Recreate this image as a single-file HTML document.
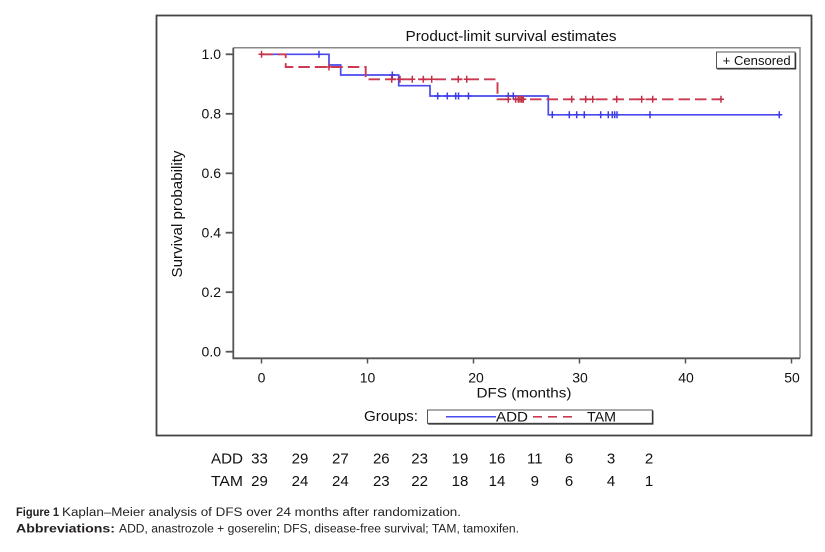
<!DOCTYPE html>
<html>
<head>
<meta charset="utf-8">
<style>
  html,body{margin:0;padding:0;background:#fff;}
  body{width:825px;height:552px;overflow:hidden;}
  svg{display:block;}
  text{font-family:"Liberation Sans", Arial, sans-serif;}
</style>
</head>
<body>
<svg width="825" height="552" viewBox="0 0 825 552" xmlns="http://www.w3.org/2000/svg">
  <rect x="0" y="0" width="825" height="552" fill="#fff"/>

  <!-- outer frame -->
  <rect x="156.5" y="15.5" width="655" height="420" fill="none" stroke="#444" stroke-width="1.8"/>

  <!-- title -->
  <text x="511" y="41" font-size="15" text-anchor="middle" fill="#111" textLength="211" lengthAdjust="spacingAndGlyphs">Product-limit survival estimates</text>

  <!-- plot frame (top/right lighter) -->
  <path d="M233.3,47.7 H800 V358.3" fill="none" stroke="#8a8a8a" stroke-width="1.5"/>
  <path d="M233.3,47.7 V358.3 H800" fill="none" stroke="#555" stroke-width="1.8"/>

  <!-- y ticks -->
  <g stroke="#555" stroke-width="1.8">
    <line x1="225.7" y1="54.3" x2="233.3" y2="54.3"/>
    <line x1="225.7" y1="113.8" x2="233.3" y2="113.8"/>
    <line x1="225.7" y1="173.3" x2="233.3" y2="173.3"/>
    <line x1="225.7" y1="232.7" x2="233.3" y2="232.7"/>
    <line x1="225.7" y1="292.2" x2="233.3" y2="292.2"/>
    <line x1="225.7" y1="351.7" x2="233.3" y2="351.7"/>
  </g>
  <g font-size="14" text-anchor="end" fill="#111">
    <text x="221" y="59">1.0</text>
    <text x="221" y="118.5">0.8</text>
    <text x="221" y="178">0.6</text>
    <text x="221" y="237.4">0.4</text>
    <text x="221" y="296.9">0.2</text>
    <text x="221" y="356.3">0.0</text>
  </g>

  <!-- x ticks -->
  <g stroke="#555" stroke-width="1.5">
    <line x1="261.5" y1="358.3" x2="261.5" y2="363.5"/>
    <line x1="367.5" y1="358.3" x2="367.5" y2="363.5"/>
    <line x1="473.5" y1="358.3" x2="473.5" y2="363.5"/>
    <line x1="579.5" y1="358.3" x2="579.5" y2="363.5"/>
    <line x1="685.5" y1="358.3" x2="685.5" y2="363.5"/>
    <line x1="791.5" y1="358.3" x2="791.5" y2="363.5"/>
  </g>
  <g font-size="14" text-anchor="middle" fill="#111">
    <text x="261.5" y="382.7">0</text>
    <text x="367.5" y="382.7">10</text>
    <text x="476" y="382.7">20</text>
    <text x="580" y="382.7">30</text>
    <text x="686" y="382.7">40</text>
    <text x="792" y="382.7">50</text>
  </g>

  <!-- axis labels -->
  <text x="524" y="397.5" font-size="14" text-anchor="middle" fill="#111" textLength="95" lengthAdjust="spacingAndGlyphs">DFS (months)</text>
  <text transform="translate(182,214) rotate(-90)" x="0" y="0" font-size="15" text-anchor="middle" fill="#111" textLength="127" lengthAdjust="spacingAndGlyphs">Survival probability</text>

  <!-- censored legend box -->
  <rect x="716.5" y="52" width="78.5" height="16.3" fill="#fff" stroke="#555" stroke-width="1"/>
  <path d="M795.6,52.6 V68.9 H717.2" fill="none" stroke="#333" stroke-width="1.3"/>
  <text x="722.7" y="65" font-size="13" fill="#111" textLength="68" lengthAdjust="spacingAndGlyphs">+ Censored</text>

  <!-- ADD curve (blue) -->
  <path d="M261.5,54.3 H329 V65 H340.7 V75 H398.7 V85.7 H430 V96 H548.3 V114.8 H781" fill="none" stroke="#4a4aee" stroke-width="1.7"/>
  <path fill="none" stroke="#3c3ce6" stroke-width="1.5" d="
    M316,54.3h6M319,50.8v7
    M389.3,75h6M392.3,71.5v7
    M434.7,96h6M437.7,92.5v7
    M444.3,96h6M447.3,92.5v7
    M452.7,96h6M455.7,92.5v7
    M455.5,96h6M458.5,92.5v7
    M465.5,96h6M468.5,92.5v7
    M505.3,96h6M508.3,92.5v7
    M510.3,96h6M513.3,92.5v7
    M549.3,114.8h6M552.3,111.3v7
    M566.3,114.8h6M569.3,111.3v7
    M573.7,114.8h6M576.7,111.3v7
    M581.3,114.8h6M584.3,111.3v7
    M597.7,114.8h6M600.7,111.3v7
    M605.3,114.8h6M608.3,111.3v7
    M609.3,114.8h6M612.3,111.3v7
    M611.7,114.8h6M614.7,111.3v7
    M614,114.8h6M617,111.3v7
    M647,114.8h6M650,111.3v7
    M776.3,114.8h6M779.3,111.3v7"/>

  <!-- TAM curve (red dashed) -->
  <path d="M261.5,54.3 H285.7 V67 H365.7 V79.3 H497.5 V99.3 H721" fill="none" stroke="#cc3a52" stroke-width="1.9" stroke-dasharray="11.5 5"/>
  <path fill="none" stroke="#c43048" stroke-width="1.5" d="
    M258.5,54.3h6M261.5,50.8v7
    M326,67h6M329,63.5v7
    M388.7,79.3h6M391.7,75.8v7
    M397,79.3h6M400,75.8v7
    M409.3,79.3h6M412.3,75.8v7
    M420.3,79.3h6M423.3,75.8v7
    M428.7,79.3h6M431.7,75.8v7
    M455.3,79.3h6M458.3,75.8v7
    M463.7,79.3h6M466.7,75.8v7
    M505.3,99.3h6M508.3,95.8v7
    M512.7,99.3h6M515.7,95.8v7
    M515.3,99.3h6M518.3,95.8v7
    M517,99.3h6M520,95.8v7
    M518.7,99.3h6M521.7,95.8v7
    M520.3,99.3h6M523.3,95.8v7
    M568.7,99.3h6M571.7,95.8v7
    M582.7,99.3h6M585.7,95.8v7
    M589.7,99.3h6M592.7,95.8v7
    M613.7,99.3h6M616.7,95.8v7
    M638.7,99.3h6M641.7,95.8v7
    M649.7,99.3h6M652.7,95.8v7
    M718,99.3h6M721,95.8v7"/>

  <!-- groups legend -->
  <text x="364" y="421" font-size="14.5" fill="#111" textLength="54" lengthAdjust="spacingAndGlyphs">Groups:</text>
  <rect x="427.5" y="410" width="224.8" height="13.3" fill="#fff" stroke="#555" stroke-width="1"/>
  <path d="M652.8,410.6 V424 H428.2" fill="none" stroke="#333" stroke-width="1.3"/>
  <line x1="446" y1="416.8" x2="496" y2="416.8" stroke="#4a4aee" stroke-width="1.5"/>
  <text x="496" y="421.5" font-size="14" fill="#111" textLength="32" lengthAdjust="spacingAndGlyphs">ADD</text>
  <line x1="533" y1="416.8" x2="578" y2="416.8" stroke="#cc3a52" stroke-width="1.6" stroke-dasharray="9 6"/>
  <text x="587" y="421.5" font-size="14" fill="#111" textLength="29" lengthAdjust="spacingAndGlyphs">TAM</text>

  <!-- risk table -->
  <g font-size="15" fill="#111">
    <text x="211" y="463.5" textLength="32" lengthAdjust="spacingAndGlyphs">ADD</text>
    <text x="211" y="486" textLength="32" lengthAdjust="spacingAndGlyphs">TAM</text>
  </g>
  <g font-size="15" fill="#111" text-anchor="middle">
    <text x="259.5" y="463.5">33</text>
    <text x="300" y="463.5">29</text>
    <text x="340.4" y="463.5">27</text>
    <text x="381.3" y="463.5">26</text>
    <text x="419.6" y="463.5">23</text>
    <text x="460" y="463.5">19</text>
    <text x="497" y="463.5">16</text>
    <text x="534.8" y="463.5">11</text>
    <text x="569" y="463.5">6</text>
    <text x="611" y="463.5">3</text>
    <text x="649" y="463.5">2</text>

    <text x="259.5" y="486">29</text>
    <text x="300" y="486">24</text>
    <text x="340.4" y="486">24</text>
    <text x="381.3" y="486">23</text>
    <text x="419.6" y="486">22</text>
    <text x="460" y="486">18</text>
    <text x="497" y="486">14</text>
    <text x="534.8" y="486">9</text>
    <text x="569" y="486">6</text>
    <text x="611" y="486">4</text>
    <text x="649" y="486">1</text>
  </g>

  <!-- caption -->
  <g font-size="11.5" fill="#231f20">
    <text x="16" y="516" font-weight="bold" textLength="43" lengthAdjust="spacingAndGlyphs">Figure 1</text>
    <text x="62" y="516" textLength="399" lengthAdjust="spacingAndGlyphs">Kaplan–Meier analysis of DFS over 24 months after randomization.</text>
    <text x="16" y="532.3" font-weight="bold" textLength="99" lengthAdjust="spacingAndGlyphs">Abbreviations:</text>
    <text x="119" y="532.3" textLength="400" lengthAdjust="spacingAndGlyphs">ADD, anastrozole + goserelin; DFS, disease-free survival; TAM, tamoxifen.</text>
  </g>
</svg>
</body>
</html>
